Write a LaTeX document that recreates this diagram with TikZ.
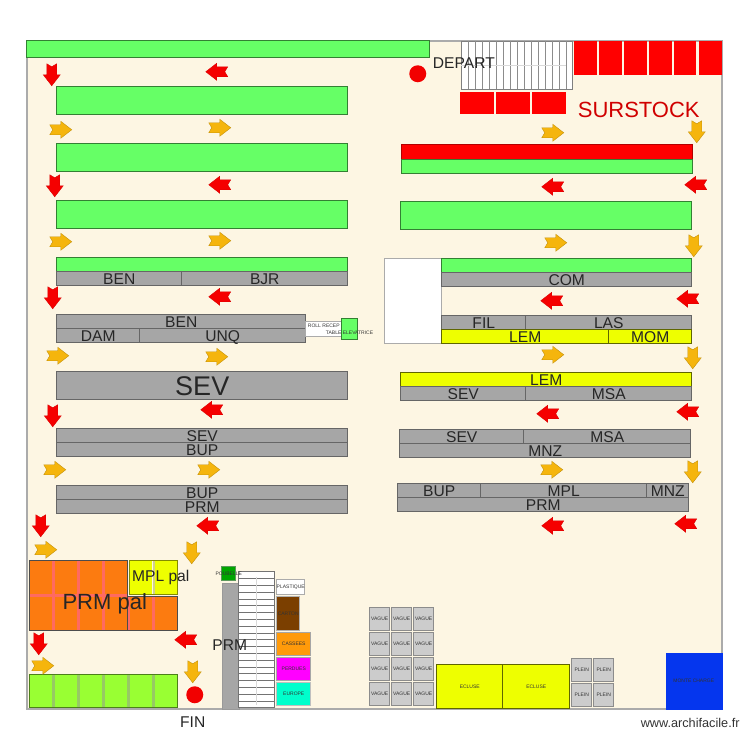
\documentclass[tikz,border=0pt]{standalone}
\usepackage{fontspec}
\setmainfont{Liberation Sans}
\usetikzlibrary{calc}

\definecolor{floorcream}{HTML}{FDF6E3}
\definecolor{wallgray}{HTML}{ABABAB}
\definecolor{rackgreen}{HTML}{66FF66}
\definecolor{rackgray}{HTML}{A6A6A6}
\definecolor{rackyellow}{HTML}{EEFF00}
\definecolor{palorange}{HTML}{FC7B10}
\definecolor{palgap}{HTML}{FF6A60}
\definecolor{palgreen}{HTML}{99FF33}
\definecolor{flowred}{HTML}{F50000}
\definecolor{flowyellow}{HTML}{F5B50D}
\definecolor{cartonbrown}{HTML}{7B3F00}
\definecolor{cassorange}{HTML}{FF9A0A}
\definecolor{perdmagenta}{HTML}{FF00FF}
\definecolor{eurocyan}{HTML}{00FFCC}
\definecolor{monteblue}{HTML}{0536EE}

\tikzset{
  racktext/.style={inner sep=0pt, text=black!85, text height=10.5pt, text depth=0pt, font=\fontsize{15.6}{15.6}\selectfont},
  tinytext/.style={inner sep=0pt, text=black!80, font=\fontsize{5}{5}\selectfont},
  greenrack/.style={fill=rackgreen, draw=black!50!rackgreen, line width=0.8pt},
  grayrack/.style={fill=rackgray, draw=black!60, line width=0.8pt},
  yellowrack/.style={fill=rackyellow, draw=black!60!rackyellow, line width=0.8pt},
  redrack/.style={fill=red, draw=black!30!red, line width=0.8pt},
  whitebox/.style={fill=white, draw=wallgray, line width=1pt},
  crate/.style={fill=black!20, draw=black!45, line width=0.8pt},
  redflow/.style={fill=flowred, draw=red!85!black, line width=0.4pt},
  yellowflow/.style={fill=flowyellow, draw=flowyellow!80!black, line width=0.4pt},
  flowarrow/.pic={\draw[pic actions] (-11,-5) -- (0,-5) -- (0,-8.5) -- (11,0) -- (0,8.5) -- (0,5) -- (-11,5) -- (-8,0) -- cycle;}
}

% name, corner, corner, style, label
\newcommand{\rack}[6][racktext]{\draw[#5] (#3) rectangle (#4) node[midway, #1] (#2) {#6};}

\begin{document}
\begin{tikzpicture}[x=1pt, y=-1pt]
  \useasboundingbox (0,0) rectangle (750,750);
  \begin{scope}[xshift=-0.25pt, yshift=0.25pt]
  \draw[fill=floorcream, draw=wallgray, line width=1.5pt] (27,41) rectangle (722,709);

  % top row
  \rack{topgreen}{27,41}{430,58}{greenrack}{}
  \draw[fill=white, draw=black!50, line width=0.5pt] (461,41) rectangle (572,89);
  \foreach \x in {468,475,...,566}
    \draw[black!45, line width=0.5pt] (\x,41) -- (\x,89);
  \draw[black!15] (461,65) -- (566,65);
  \foreach \x/\w in {574/597, 599/622, 624/647, 649/672, 674/696, 699/722}
    \fill[red] (\x,41) rectangle (\w,75);
  \foreach \x/\w in {460/494, 496/530, 532/566}
    \fill[red] (\x,92) rectangle (\w,114);
  \fill[red!95!black] (418,74) circle (8.5);
  \node[racktext, anchor=west] (depart) at (433,63) {DEPART};
  \node[inner sep=0pt, text=flowred!85!black, font=\fontsize{22}{22}\selectfont] (surstock) at (639,110) {SURSTOCK};

  % left racks
  \rack{left1}{57,87}{348,115}{greenrack}{}
  \rack{left2}{57,144}{348,172}{greenrack}{}
  \rack{left3}{57,201}{348,229}{greenrack}{}
  \rack{left4}{57,258}{348,272}{greenrack}{}
  \rack{ben1}{57,272}{182,286}{grayrack}{BEN}
  \rack{bjr}{182,272}{348,286}{grayrack}{BJR}
  \rack{ben2}{57,315}{306,329}{grayrack}{BEN}
  \rack{dam}{57,329}{140,343}{grayrack}{DAM}
  \rack{unq}{140,329}{306,343}{grayrack}{UNQ}
  \rack{roll}{306,322}{342,337}{whitebox}{}
  \node[tinytext, anchor=west] (rollrecep) at (308,326) {ROLL RECEP};
  \rack{elev}{342,319}{358,340}{greenrack}{}
  \node[tinytext, anchor=west] (tableelev) at (326,333) {TABLE ELEVATRICE};
  \rack[racktext, text height=19pt, font=\fontsize{27}{27}\selectfont]{sevbig}{57,372}{348,400}{grayrack}{SEV}
  \rack{sev1}{57,429}{348,443}{grayrack}{SEV}
  \rack{bup1}{57,443}{348,457}{grayrack}{BUP}
  \rack{bup2}{57,486}{348,500}{grayrack}{BUP}
  \rack{prm1}{57,500}{348,514}{grayrack}{PRM}

  % right racks
  \rack{right1}{402,145}{693,160}{redrack}{}
  \rack{right2}{402,160}{693,174}{greenrack}{}
  \rack{right3}{401,202}{692,230}{greenrack}{}
  \rack{officebox}{385,259}{442,344}{whitebox}{}
  \rack{right4}{442,259}{692,273}{greenrack}{}
  \rack{com}{442,273}{692,287}{grayrack}{COM}
  \rack{fil}{442,316}{526,330}{grayrack}{FIL}
  \rack{las}{526,316}{692,330}{grayrack}{LAS}
  \rack{lem1}{442,330}{609,344}{yellowrack}{LEM}
  \rack{mom}{609,330}{692,344}{yellowrack}{MOM}
  \rack{lem2}{401,373}{692,387}{yellowrack}{LEM}
  \rack{sev2}{401,387}{526,401}{grayrack}{SEV}
  \rack{msa1}{526,387}{692,401}{grayrack}{MSA}
  \rack{sev3}{400,430}{524,444}{grayrack}{SEV}
  \rack{msa2}{524,430}{691,444}{grayrack}{MSA}
  \rack{mnz1}{400,444}{691,458}{grayrack}{MNZ}
  \rack{bup3}{398,484}{481,498}{grayrack}{BUP}
  \rack{mpl}{481,484}{647,498}{grayrack}{MPL}
  \rack{mnz2}{647,484}{689,498}{grayrack}{MNZ}
  \rack{prm2}{398,498}{689,512}{grayrack}{PRM}

  % pallets
  \fill[palgap] (30,561) rectangle (128,631);
  \fill[palgap] (128,597) rectangle (178,631);
  \foreach \x in {30,55,80,105} {
    \fill[palorange] (\x,561) rectangle ++(22.5,33);
    \fill[palorange] (\x,597) rectangle ++(22.5,34);
  }
  \foreach \x in {130,155} {
    \fill[palorange] (\x,597) rectangle ++(22.5,34);
    \fill[rackyellow] (\x,561) rectangle ++(22.5,34);
  }
  \fill[black!40!rackyellow, opacity=0.4] (153,561) rectangle (155,595);
  \draw[black!70, line width=0.6pt] (30,561) rectangle (128,631);
  \draw[black!70, line width=0.6pt] (128,597) rectangle (178,631);
  \draw[black!45!rackyellow, line width=0.8pt] (130,561) rectangle (178,595);
  \node[racktext, text height=16pt, text depth=4pt, font=\fontsize{22}{22}\selectfont] (prmpal) at (105,604) {PRM pal};
  \node[racktext, text depth=3pt] (mplpal) at (161,578) {MPL pal};
  \fill[palgreen!70!black!70] (30,675) rectangle (178,708);
  \foreach \x in {30,55,80,105,130,155}
    \fill[palgreen] (\x,675) rectangle ++(22.5,33);
  \draw[black!50!palgreen, line width=0.8pt] (30,675) rectangle (178,708);
  \fill[red!95!black] (195,695) circle (8.5);
  \node[racktext] (fin) at (193,722) {FIN};

  % bottom storage
  \rack{prmcol}{222,583}{239,709}{fill=rackgray, draw=black!40, line width=0.5pt}{}
  \draw[fill=white, draw=black!55, line width=0.6pt] (239,572) rectangle (275,708);
  \foreach \i in {1,...,19}
    \draw[black!55, line width=0.6pt] (239,572+6.8*\i) -- (275,572+6.8*\i);
  \draw[black!15, line width=0.8pt] (257,577) -- (257,705);
  \rack[tinytext]{poubelle}{222,567}{236,581}{fill=green!65!black, draw=white!60!green!60!black, line width=0.8pt}{POUBELLE}
  \node[racktext] (prm3) at (230,645) {PRM};
  \rack[tinytext]{plastique}{277,580}{305,595}{whitebox}{PLASTIQUE}
  \rack[tinytext]{carton}{277,597}{300,631}{fill=cartonbrown, draw=black!30, line width=0.8pt}{CARTON}
  \rack[tinytext]{cassees}{277,633}{311,656}{fill=cassorange, draw=black!35, line width=0.8pt}{CASSEES}
  \rack[tinytext]{perdues}{277,658}{311,681}{fill=perdmagenta, draw=black!35, line width=0.8pt}{PERDUES}
  \rack[tinytext]{europe}{277,683}{311,706}{fill=eurocyan, draw=black!25, line width=0.8pt}{EUROPE}
  \foreach \x in {370,392,414}
    \foreach \y in {608,633,658,683}
      \draw[crate] (\x,\y) rectangle ++(20,23) node[midway, tinytext] (vague\x\y) {VAGUE};
  \rack[tinytext]{ecluse1}{437,665}{503,709}{yellowrack}{ECLUSE}
  \rack[tinytext]{ecluse2}{503,665}{570,709}{yellowrack}{ECLUSE}
  \foreach \x in {572,594}
    \foreach \y in {659,684}
      \draw[crate] (\x,\y) rectangle ++(20,23) node[midway, tinytext] (plein\x\y) {PLEIN};
  \rack[tinytext]{monte}{666,653}{722,709}{fill=monteblue, draw=monteblue}{MONTE CHARGE}

  % flow arrows
  \foreach \x/\y in {52/75, 55/186, 53/298, 53/416, 41/526, 39/644}
    \pic[redflow, rotate=-90] at (\x,\y) {flowarrow};
  \foreach \x/\y in {217/72, 220/185, 220/297, 212/410, 208/526, 186/640, 553/187, 696/185, 552/301, 688/299, 548/414, 688/412, 553/526, 686/524}
    \pic[redflow, rotate=180] at (\x,\y) {flowarrow};
  \foreach \x/\y in {61/130, 220/128, 553/133, 61/242, 220/241, 556/243, 58/356, 217/357, 553/355, 55/470, 209/470, 552/470, 46/550, 43/666}
    \pic[yellowflow] at (\x,\y) {flowarrow};
  \foreach \x/\y in {697/132, 694/246, 693/358, 693/472, 192/553, 193/672}
    \pic[yellowflow, rotate=-90] at (\x,\y) {flowarrow};

  \node[inner sep=0pt, anchor=east, text=black!80, font=\fontsize{12.7}{13}\selectfont] (archi) at (740,723) {www.archifacile.fr};
  \end{scope}
\end{tikzpicture}
\end{document}
